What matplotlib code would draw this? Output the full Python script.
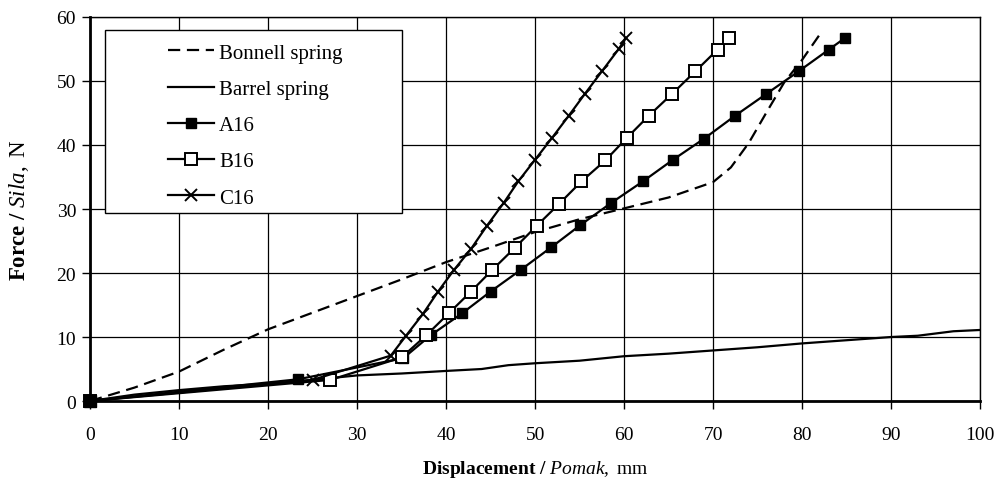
import matplotlib
matplotlib.use("Agg")
import matplotlib.pyplot as plt
from matplotlib.patches import Rectangle

plt.rcParams['font.family'] = ['Liberation Serif', 'DejaVu Serif']
plt.rcParams['mathtext.fontset'] = 'custom'
plt.rcParams['mathtext.rm'] = 'Liberation Serif'
plt.rcParams['mathtext.it'] = 'Liberation Serif:italic'
plt.rcParams['mathtext.bf'] = 'Liberation Serif:bold'

# Force-displacement curves of the spring types
bonnell_x = [0, 5, 10, 15, 20, 25, 30, 35, 40, 45, 50, 55, 60, 65, 70, 72, 74, 76, 78, 80, 82]
bonnell_y = [0, 2.1, 4.6, 8.0, 11.2, 13.8, 16.4, 19.0, 21.7, 24.0, 26.4, 28.4, 30.1, 31.8,
             34.2, 36.5, 40.3, 45.1, 49.8, 53.3, 57.3]

barrel_x = [0, 5, 10, 15, 20, 25, 30, 35, 40, 44, 47, 50, 55, 60, 65, 70, 75, 80, 85, 90, 93, 97, 100]
barrel_y = [0, 1.0, 1.7, 2.3, 2.7, 3.3, 4.0, 4.3, 4.7, 5.0, 5.6, 5.9, 6.3, 7.0, 7.4, 7.9, 8.4,
            9.0, 9.5, 10.0, 10.2, 10.9, 11.1]

a16_x = [0, 23.4, 35.2, 38.3, 41.8, 45.0, 48.4, 51.8, 55.1, 58.5, 62.1, 65.5, 69.0, 72.5, 76.0, 79.6, 83.0, 84.8]
a16_y = [0, 3.4, 6.7, 10.3, 13.7, 17.1, 20.5, 24.0, 27.5, 30.9, 34.3, 37.7, 41.0, 44.6, 48.0, 51.5, 54.9, 56.7]

b16_x = [0, 27.0, 35.0, 37.8, 40.3, 42.8, 45.2, 47.7, 50.2, 52.7, 55.2, 57.9, 60.3, 62.8, 65.4, 68.0, 70.5, 71.8]
b16_y = [0, 3.3, 6.8, 10.3, 13.7, 17.1, 20.5, 23.9, 27.4, 30.8, 34.3, 37.6, 41.1, 44.6, 48.0, 51.5, 54.9, 56.7]

c16_x = [0, 25.0, 33.8, 35.5, 37.4, 39.1, 40.9, 42.8, 44.6, 46.5, 48.1, 50.0, 51.9, 53.8, 55.6, 57.5, 59.4, 60.2]
c16_y = [0, 3.3, 7.1, 10.2, 13.6, 17.1, 20.5, 23.75, 27.4, 31.0, 34.3, 37.7, 41.1, 44.6, 48.0, 51.5, 55.0, 56.7]

fig = plt.figure(figsize=(9.99, 4.81), dpi=100)
ax = fig.add_axes([0.0901, 0.1642, 0.891, 0.7984])

ax.plot(bonnell_x, bonnell_y, color='black', lw=1.6, ls=(0, (5.5, 3)), label='Bonnell spring')
ax.plot(barrel_x, barrel_y, color='black', lw=1.6, label='Barrel spring')
ax.plot(a16_x, a16_y, color='black', lw=1.6, marker='s', ms=7.5,
        mfc='black', mec='black', label='A16', clip_on=False)
ax.plot(b16_x, b16_y, color='black', lw=1.6, marker='s', ms=8,
        mfc='white', mec='black', mew=1.4, label='B16', clip_on=False)
ax.plot(c16_x, c16_y, color='black', lw=1.6, marker='x', ms=9,
        mec='black', mew=1.4, label='C16', clip_on=False)
# origin point of A16 drawn on top
ax.plot(a16_x[:1], a16_y[:1], ls='none', marker='s', ms=9, color='black', clip_on=False, zorder=5)

ax.set_xlim(0, 100)
ax.set_ylim(0, 60)
ax.set_xticks(range(0, 101, 10))
ax.set_yticks(range(0, 61, 10))
ax.grid(True, color='black', lw=0.9)
ax.set_axisbelow(True)
ax.tick_params(direction='out', length=6, width=1, labelsize=14, colors='black')
ax.tick_params(axis='x', pad=12)
ax.tick_params(axis='y', pad=4)
for side in ['left', 'bottom']:
    ax.spines[side].set_linewidth(2)
for side in ['top', 'right']:
    ax.spines[side].set_linewidth(1)

ax.set_xlabel(r'$\mathbf{Displacement\ /}$ $\mathit{Pomak},$ mm', fontsize=14)
ax.xaxis.set_label_coords(0.5, -0.148)
ax.set_ylabel(r'$\mathbf{Force\ /}$ $\mathit{Sila},$ N', fontsize=16.5)
ax.yaxis.set_label_coords(-0.066, 0.5)

# legend box
ax.add_patch(Rectangle((0.017, 0.49), 0.333, 0.476, transform=ax.transAxes,
                       facecolor='white', edgecolor='black', lw=1, zorder=3))
leg = ax.legend(loc='upper left', bbox_to_anchor=(0.0876, 0.932), frameon=False,
                fontsize=15, handlelength=2.2, handletextpad=0.25, labelspacing=0.8,
                borderpad=0, borderaxespad=0)
leg.set_zorder(4)

fig.savefig('out.png', dpi=100)
